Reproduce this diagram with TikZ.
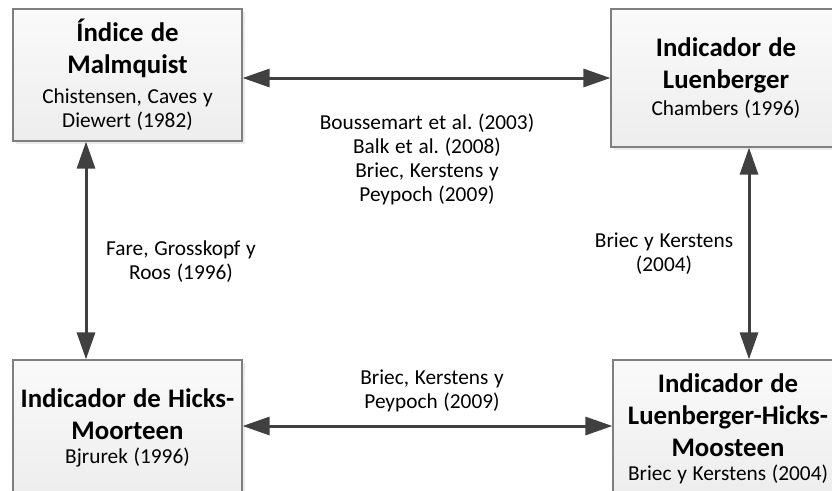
\documentclass[tikz,border=0pt]{standalone}
\usepackage{fontspec}
\setmainfont{Carlito}
\usetikzlibrary{arrows.meta,shadows}

\definecolor{boxline}{HTML}{7F7F7F}
\definecolor{arrowgray}{HTML}{404040}

\frenchspacing
\newcommand{\titlefont}{\fontsize{26.8}{32}\selectfont\bfseries\spaceskip=.27em\relax}
\newcommand{\bodyfont}{\fontsize{21.3}{24}\selectfont\spaceskip=.27em\relax}
% box contents: extra gap, bold title lines, reference lines
\newcommand{\boxcontent}[3]{{\titlefont #2\par}\vspace{#1}{\bodyfont #3\par}}

\tikzset{
  refbox/.style={draw=boxline, line width=1.2pt,
    top color=white!98!black, bottom color=white!93!black,
    drop shadow={shadow xshift=3pt, shadow yshift=-3pt, fill=black!8, opacity=1},
    inner xsep=0pt, inner ysep=0pt, align=center},
  linkarrow/.style={draw=arrowgray, line width=3pt,
    {Triangle[length=27pt,width=18pt]}-{Triangle[length=27pt,width=18pt]}},
  refnote/.style={font=\bodyfont, align=center, inner sep=0pt}
}

\begin{document}
\begin{tikzpicture}[x=1pt,y=-1pt]
  \useasboundingbox (0,0) rectangle (832,490);
  \clip (0,0) rectangle (832,490);

  % the four index boxes
  \node[refbox, text width=229pt, minimum height=132pt] (tl) at (127.5,75)
    {\boxcontent{6pt}{Índice de\\Malmquist}{Chistensen, Caves y\\Diewert (1982)}};
  \node[refbox, text width=230pt, minimum height=138pt] (tr) at (726,78)
    {\boxcontent{3pt}{Indicador de\\Luenberger}{Chambers (1996)}};
  \node[refbox, text width=229pt, minimum height=136pt] (bl) at (127.5,428)
    {\boxcontent{0pt}{Indicador de Hicks-\\Moorteen}{Bjrurek (1996)}};
  \node[refbox, text width=230pt, minimum height=137pt] (br) at (728,428.5)
    {\boxcontent{0pt}{Indicador de\\Luenberger-Hicks-\\Moosteen}{Briec y Kerstens (2004)}};

  % helper coordinates for the connector lines
  \coordinate (lv) at (86,0);
  \coordinate (rv) at (749,0);
  \coordinate (bh) at (0,426);

  % connectors
  \draw[linkarrow] (tl.east |- tr.west) -- (tr.west);
  \draw[linkarrow] (tl.south -| lv) -- (bl.north -| lv);
  \draw[linkarrow] (tr.south -| rv) -- (br.north -| rv);
  \draw[linkarrow] (bl.east |- bh) -- (br.west |- bh);

  % connector labels
  \node[refnote] (ltop) at (427,159)
    {Boussemart et al. (2003)\\Balk et al. (2008)\\Briec, Kerstens y\\Peypoch (2009)};
  \node[refnote] (lleft) at (181,262) {Fare, Grosskopf y\\Roos (1996)};
  \node[refnote] (lright) at (664,254) {Briec y Kerstens\\(2004)};
  \node[refnote] (lbottom) at (432,391) {Briec, Kerstens y\\Peypoch (2009)};
\end{tikzpicture}
\end{document}
